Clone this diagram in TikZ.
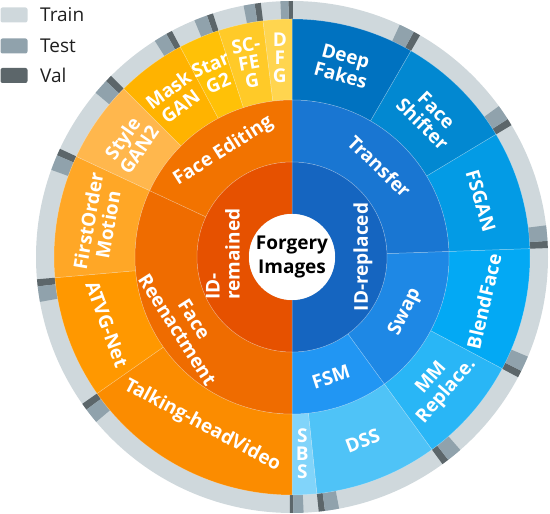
\documentclass[tikz,border=0pt]{standalone}
\usepackage{fontspec}
\setmainfont{Open Sans}
\definecolor{trainc}{RGB}{207,216,220}
\definecolor{testc}{RGB}{144,162,172}
\definecolor{valc}{RGB}{92,102,106}
\definecolor{cDeep}{RGB}{0,114,192}
\definecolor{cShift}{RGB}{2,136,209}
\definecolor{cFSGAN}{RGB}{3,155,229}
\definecolor{cBlend}{RGB}{3,169,244}
\definecolor{cMM}{RGB}{41,182,246}
\definecolor{cDSS}{RGB}{79,195,247}
\definecolor{cSBS}{RGB}{129,212,250}
\definecolor{cTransfer}{RGB}{25,118,210}
\definecolor{cSwap}{RGB}{30,136,229}
\definecolor{cFSM}{RGB}{33,150,243}
\definecolor{cIDrep}{RGB}{21,101,192}
\definecolor{cIDrem}{RGB}{230,81,0}
\definecolor{cEdit}{RGB}{242,115,0}
\definecolor{cReen}{RGB}{239,108,0}
\definecolor{cTalk}{RGB}{251,140,0}
\definecolor{cATVG}{RGB}{255,152,0}
\definecolor{cFirst}{RGB}{255,167,38}
\definecolor{cStyle}{RGB}{255,183,77}
\definecolor{cMask}{RGB}{255,179,0}
\definecolor{cStar}{RGB}{255,193,7}
\definecolor{cSCFEG}{RGB}{255,202,40}
\definecolor{cDFG}{RGB}{255,213,79}
\newcommand\annsec[5]{\filldraw[secstyle,fill=#1] (#2:#4) arc[start angle=#2,end angle=#3,radius=#4] -- (#3:#5) arc[start angle=#3,end angle=#2,radius=#5] -- cycle;}
\newcommand\ringtick[3]{%
  \pgfmathsetmacro\tka{#1+#2}\pgfmathsetmacro\tkb{#1+#2+#3}%
  \fill[valc] (#1:238pt) arc[start angle=#1,end angle=\tka,radius=238pt] -- (\tka:256pt) arc[start angle=\tka,end angle=#1,radius=256pt] -- cycle;
  \fill[testc] (\tka:238pt) arc[start angle=\tka,end angle=\tkb,radius=238pt] -- (\tkb:256pt) arc[start angle=\tkb,end angle=\tka,radius=256pt] -- cycle;}
\tikzset{
  secstyle/.style={draw=white,draw opacity=0.3,line width=0.5pt},
  lbl/.style={text=white,font=\bfseries\fontsize{19}{20}\selectfont,align=center,inner sep=0pt},
  stk/.style={text=white,font=\bfseries\fontsize{19}{18}\selectfont,align=center,inner sep=0pt},
  legbox/.style={rounded corners=2pt,minimum width=27pt,minimum height=15pt,inner sep=0pt},
  legtxt/.style={text=black!88,font=\fontsize{19}{20}\selectfont,anchor=west,inner sep=0pt}
}
\begin{document}
\begin{tikzpicture}[x=1pt,y=1pt]
\useasboundingbox (0,0) rectangle (550,514);
% legend
\node[legbox,fill=trainc] (ltrain) at (14,499) {};
\node[legbox,fill=testc] (ltest) at (14,468) {};
\node[legbox,fill=valc] (lval) at (14,438.5) {};
\node[legtxt] (ttrain) at (40,499) {Train};
\node[legtxt] (ttest) at (40,468) {Test};
\node[legtxt] (tval) at (40,438.5) {Val};
\begin{scope}[shift={(292,257)}]
% outer ring
\fill[trainc] (0,0) circle[radius=256pt];
\ringtick{60}{1.6}{3.5}
\ringtick{31}{1.6}{3.5}
\ringtick{2}{1.6}{3.5}
\ringtick{-28}{1.6}{3.5}
\ringtick{-54}{1.6}{3.5}
\ringtick{-84}{1.4}{3.2}
\ringtick{-90.5}{0.8}{2.3}
\ringtick{215}{1.6}{3.5}
\ringtick{185}{1.6}{3.5}
\ringtick{155}{1.6}{3.5}
\ringtick{135}{1.6}{3.5}
\ringtick{118}{1.4}{3.0}
\ringtick{108}{1.4}{3.0}
\ringtick{97}{1.4}{2.5}
\ringtick{89.8}{1.0}{1.8}
% leaves
\annsec{cDeep}{90}{60}{157pt}{238pt}
\annsec{cShift}{60}{31}{157pt}{238pt}
\annsec{cFSGAN}{31}{2}{157pt}{238pt}
\annsec{cBlend}{2}{-28}{157pt}{238pt}
\annsec{cMM}{-28}{-54}{157pt}{238pt}
\annsec{cDSS}{-54}{-84}{157pt}{238pt}
\annsec{cSBS}{-84}{-90}{157pt}{238pt}
\annsec{cTalk}{270}{215}{157pt}{238pt}
\annsec{cATVG}{215}{185}{157pt}{238pt}
\annsec{cFirst}{185}{155}{157pt}{238pt}
\annsec{cStyle}{155}{135}{157pt}{238pt}
\annsec{cMask}{135}{118}{157pt}{238pt}
\annsec{cStar}{118}{108}{157pt}{238pt}
\annsec{cSCFEG}{108}{97}{157pt}{238pt}
\annsec{cDFG}{97}{90}{157pt}{238pt}
% middle ring
\annsec{cTransfer}{90}{2}{95pt}{157pt}
\annsec{cSwap}{2}{-54}{95pt}{157pt}
\annsec{cFSM}{-54}{-90}{95pt}{157pt}
\annsec{cReen}{270}{155}{95pt}{157pt}
\annsec{cEdit}{155}{90}{95pt}{157pt}
% inner ring
\annsec{cIDrep}{90}{-90}{43pt}{95pt}
\annsec{cIDrem}{270}{90}{43pt}{95pt}
\fill[white] (0,0) circle[radius=43pt];
% leaf labels
\node[lbl,rotate=-15] (deepfakes) at (75:198pt) {Deep\\Fakes};
\node[lbl,rotate=-44.5] (faceshifter) at (45.5:196pt) {Face\\Shifter};
\node[lbl,rotate=-73.5] (fsgan) at (16.5:197pt) {FSGAN};
\node[lbl,rotate=77] (blendface) at (-13:197pt) {BlendFace};
\node[lbl,rotate=49] (mmreplace) at (-41:195pt) {MM\\Replace.};
\node[lbl,rotate=21] (dss) at (-69:197pt) {DSS};
\node[stk] (sbs) at (-87:197pt) {S\\B\\S};
\node[lbl,rotate=-28] (talking) at (242:191pt) {Talking-headVideo};
\node[lbl,rotate=-70] (atvg) at (200:197pt) {ATVG-Net};
\node[lbl,rotate=80] (firstorder) at (170:197pt) {FirstOrder\\Motion};
\node[lbl,rotate=55] (stylegan) at (145:197pt) {Style\\GAN2};
\node[lbl,rotate=36.5] (maskgan) at (126.5:198pt) {Mask\\GAN};
\node[lbl,rotate=23] (starg) at (113:199pt) {Star\\G2};
\node[stk,rotate=10] (scfeg) at (102.5:199pt) {SC-\\FE\\G};
\node[stk] (dfg) at (93.5:200pt) {D\\F\\G};
% middle labels
\node[lbl,rotate=-44] (transfer) at (46:126pt) {Transfer};
\node[lbl,rotate=64] (swap) at (-26:126pt) {Swap};
\node[lbl,rotate=18] (fsm) at (-72:126pt) {FSM};
\node[lbl,rotate=32.5] (faceediting) at (123:126pt) {Face Editing};
\node[lbl,rotate=-57.5] (facereen) at (212.5:126pt) {Face\\Reenactment};
% inner labels
\node[lbl,rotate=90] (idrep) at (0:71pt) {ID-replaced};
\node[lbl,rotate=90,align=left,anchor=west] (idrem) at (-69,-43) {ID-\\remained};
\node[text=black,font=\bfseries\fontsize{19}{24}\selectfont,align=center,inner sep=0pt] (center) at (0,0) {Forgery\\Images};
\end{scope}
\end{tikzpicture}
\end{document}
